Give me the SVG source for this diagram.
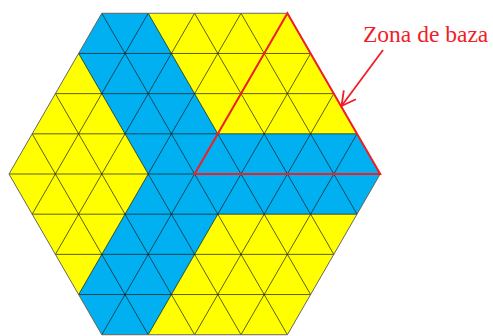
<svg xmlns="http://www.w3.org/2000/svg" width="493" height="336" viewBox="0 0 493 336">
  <style>
    .yellow { fill: #FFFF00; }
    .blue { fill: #00B0F0; }
    .grid { stroke: #1a1a1a; stroke-width: 0.7; fill: none; }
    .edge { stroke: #666666; stroke-width: 1; fill: none; }
    .red { stroke: #F01E28; stroke-width: 2; fill: none; stroke-linejoin: miter; }
    .label { font-family: "Liberation Serif", "Times New Roman", serif; font-size: 23.5px; fill: #F01E28; }
  </style>
  <defs>
    <marker id="openArrow" markerUnits="userSpaceOnUse" viewBox="-17 -10 19 20" markerWidth="19" markerHeight="20" refX="0" refY="0" orient="auto">
      <path d="M -14 -7.5 L 0 0 L -14 7.5" stroke="#F01E28" stroke-width="1.8" fill="none"/>
    </marker>
  </defs>

  <g id="hexagon">
    <polygon class="yellow" points="101.8,13.28 287.4,13.28 380.2,174 287.4,334.72 101.8,334.72 9,174"/>
    <polygon class="blue" points="101.8,13.28 148.2,13.28 217.8,133.82 357,133.82 380.2,174 357,214.18 217.8,214.18 148.2,334.72 101.8,334.72 78.6,294.54 148.2,174 78.6,53.46"/>
  </g>

  <g id="grid" class="grid">
    <line x1="78.6" y1="53.46" x2="310.6" y2="53.46"/>
    <line x1="55.4" y1="93.64" x2="333.8" y2="93.64"/>
    <line x1="32.2" y1="133.82" x2="357" y2="133.82"/>
    <line x1="9" y1="174" x2="380.2" y2="174"/>
    <line x1="32.2" y1="214.18" x2="357" y2="214.18"/>
    <line x1="55.4" y1="254.36" x2="333.8" y2="254.36"/>
    <line x1="78.6" y1="294.54" x2="310.6" y2="294.54"/>

    <line x1="148.2" y1="13.28" x2="32.2" y2="214.18"/>
    <line x1="194.6" y1="13.28" x2="55.4" y2="254.36"/>
    <line x1="241" y1="13.28" x2="78.6" y2="294.54"/>
    <line x1="287.4" y1="13.28" x2="101.8" y2="334.72"/>
    <line x1="310.6" y1="53.46" x2="148.2" y2="334.72"/>
    <line x1="333.8" y1="93.64" x2="194.6" y2="334.72"/>
    <line x1="357" y1="133.82" x2="241" y2="334.72"/>

    <line x1="241" y1="13.28" x2="357" y2="214.18"/>
    <line x1="194.6" y1="13.28" x2="333.8" y2="254.36"/>
    <line x1="148.2" y1="13.28" x2="310.6" y2="294.54"/>
    <line x1="101.8" y1="13.28" x2="287.4" y2="334.72"/>
    <line x1="78.6" y1="53.46" x2="241" y2="334.72"/>
    <line x1="55.4" y1="93.64" x2="194.6" y2="334.72"/>
    <line x1="32.2" y1="133.82" x2="148.2" y2="334.72"/>
  </g>

  <g id="hexagon-outline">
    <polygon class="edge" points="101.8,13.28 287.4,13.28 380.2,174 287.4,334.72 101.8,334.72 9,174"/>
  </g>

  <g id="base-zone">
    <polygon class="red" points="194.6,174 287.4,13.28 380.2,174"/>
  </g>

  <g id="label">
    <text class="label" x="363" y="42">Zona de baza</text>
  </g>

  <g id="connectors">
    <line x1="383" y1="50" x2="341.5" y2="106" stroke="#F01E28" stroke-width="1.8" marker-end="url(#openArrow)"/>
  </g>
</svg>
